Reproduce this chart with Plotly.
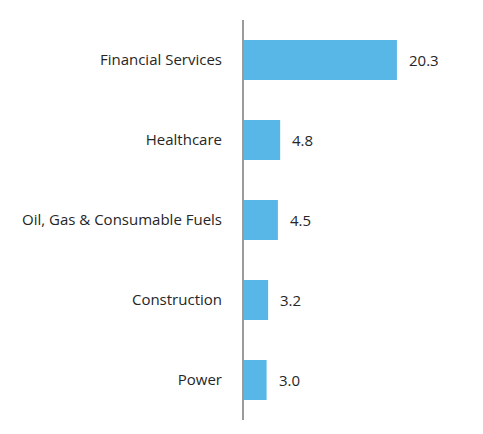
import plotly.graph_objects as go

categories = ["Financial Services", "Healthcare", "Oil, Gas & Consumable Fuels", "Construction", "Power"]
values = [20.3, 4.8, 4.5, 3.2, 3.0]

bar_color = "#58B7E6"
text_color = "#262626"

fig = go.Figure(go.Bar(
    x=values,
    y=categories,
    orientation="h",
    marker=dict(color=bar_color, line=dict(width=0)),
    width=0.5,
    hoverinfo="skip",
))

# value labels just right of each bar
for v, c in zip(values, categories):
    fig.add_annotation(x=v, y=c, text=f"{v:.1f}", showarrow=False,
                       xanchor="left", xshift=10,
                       font=dict(family="Open Sans", size=15, color=text_color))

# page body adds an 8px margin, so the figure is a bit smaller than the window
fig.update_layout(
    width=475, height=426,
    margin=dict(l=236, r=13, t=12, b=14),
    paper_bgcolor="white", plot_bgcolor="white",
    showlegend=False,
    font=dict(family="Open Sans", size=15, color=text_color),
    xaxis=dict(range=[0, 30], visible=False, fixedrange=True),
    yaxis=dict(
        autorange="reversed",
        showline=True, linecolor="#9A9A9A", linewidth=2,
        showgrid=False, zeroline=False,
        ticks="", ticklabelstandoff=17,
        tickfont=dict(family="Open Sans", size=15, color=text_color),
    ),
)

fig.write_html("out.html")
